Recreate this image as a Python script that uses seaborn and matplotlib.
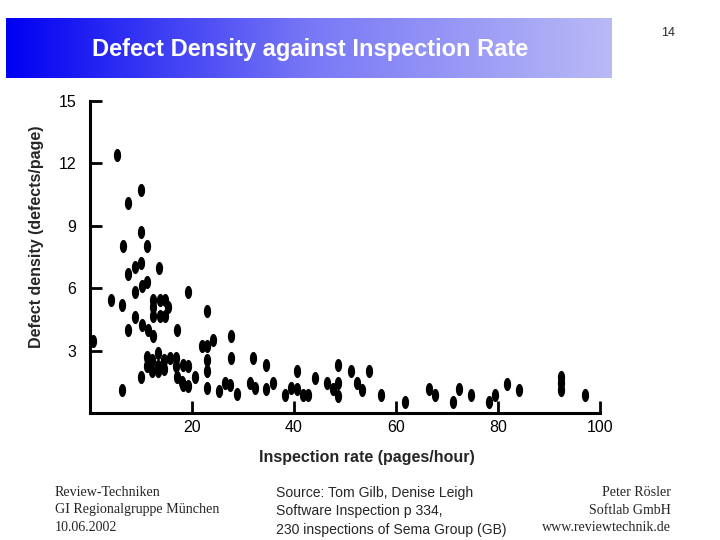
"""Defect density against inspection rate, slide-style scatter plot."""

import matplotlib

matplotlib.use("Agg")

import matplotlib.pyplot as plt
import numpy as np
import pandas as pd
import seaborn as sns
from matplotlib.colors import LinearSegmentedColormap
from matplotlib.path import Path

TITLE = "Defect Density against Inspection Rate"
PAGE_NUMBER = "14"
X_LABEL = "Inspection rate (pages/hour)"
Y_LABEL = "Defect density (defects/page)"
X_TICKS = [20, 40, 60, 80, 100]
Y_TICKS = [3, 6, 9, 12, 15]

# inspection rate (pages/hour)
inspection_rate = [
    5.2, 10.0, 7.5, 10.0, 6.5, 11.1, 10.0, 8.8, 7.5, 13.5,
    11.1, 10.1, 8.8, 19.3, 4.1, 6.3, 12.4, 13.7, 14.8, 12.4,
    15.2, 12.4, 13.7, 14.8, 22.9, 8.8, 10.1, 11.4, 7.5, 17.0,
    12.3, 27.6, 0.5, 24.2, 21.9, 22.9, 11.1, 11.1, 12.2, 13.4,
    13.4, 14.5, 14.5, 15.7, 16.9, 12.2, 13.3, 16.9, 18.3, 19.3,
    10.0, 17.0, 18.0, 19.3, 18.3, 20.6, 6.3, 22.9, 22.9, 22.9,
    27.6, 32.0, 25.2, 26.5, 27.4, 28.8, 31.4, 32.4, 34.6, 35.8,
    34.6, 38.2, 39.5, 40.5, 40.5, 41.7, 42.8, 44.1, 46.4, 47.6,
    48.7, 48.7, 48.7, 51.1, 52.3, 53.4, 54.7, 57.1, 61.8, 66.5,
    67.6, 71.2, 72.4, 74.7, 78.2, 79.4, 81.7, 84.1, 92.3, 92.3,
    92.3, 97.1,
]
# defect density (defects/page)
defect_density = [
    12.4, 10.7, 10.1, 8.7, 8.05, 8.05, 7.2, 7.0, 6.7, 6.95,
    6.3, 6.1, 5.8, 5.8, 5.45, 5.2, 5.45, 5.45, 5.45, 5.1,
    5.1, 4.65, 4.65, 4.65, 4.9, 4.6, 4.25, 4.0, 4.0, 4.0,
    3.7, 3.7, 3.45, 3.5, 3.2, 3.2, 2.7, 2.25, 2.55, 2.9,
    2.25, 2.55, 2.1, 2.65, 2.65, 2.0, 2.0, 2.25, 2.3, 2.25,
    1.75, 1.75, 1.5, 1.3, 1.35, 1.75, 1.1, 2.55, 2.0, 1.2,
    2.65, 2.65, 1.05, 1.45, 1.35, 0.9, 1.45, 1.2, 2.3, 1.45,
    1.15, 0.85, 1.2, 2.0, 1.15, 0.85, 0.85, 1.7, 1.45, 1.15,
    2.3, 1.45, 0.8, 2.0, 1.45, 1.1, 2.0, 0.85, 0.55, 1.15,
    0.85, 0.55, 1.15, 0.85, 0.55, 0.85, 1.4, 1.1, 1.75, 1.45,
    1.1, 0.85,
]

FOOTER_LEFT = "Review-Techniken\nGI Regionalgruppe München\n10.06.2002"
FOOTER_MID = "Source: Tom Gilb, Denise Leigh\nSoftware Inspection p 334,\n230 inspections of Sema Group (GB)"
FOOTER_RIGHT = "Peter Rösler\nSoftlab GmbH\nwww.reviewtechnik.de"


def ellipse_marker(ratio=0.55, n=40):
    theta = np.linspace(0, 2 * np.pi, n)
    verts = np.column_stack([ratio * np.cos(theta), np.sin(theta)])
    return Path(verts, closed=True)


def main():
    sns.set_theme(style="white")
    plt.rcParams["font.family"] = ["Liberation Sans", "DejaVu Sans"]

    fig = plt.figure(figsize=(7.2, 5.4), dpi=100)

    # gradient title bar
    bar = fig.add_axes([6 / 720, 1 - 78 / 540, 606 / 720, 60 / 540])
    cmap = LinearSegmentedColormap.from_list("bar", ["#0000f2", "#7878f6", "#b9b9f6"])
    bar.imshow(np.linspace(0, 1, 256)[None, :], aspect="auto", cmap=cmap,
               extent=(0, 1, 0, 1))
    bar.set_axis_off()
    bar.text(0.502, 0.47, TITLE, color="white", fontsize=17, fontweight="bold",
             ha="center", va="center", transform=bar.transAxes)
    fig.text(668 / 720, 1 - 33 / 540, PAGE_NUMBER, fontsize=9, ha="center", va="center")

    ax = fig.add_axes([90 / 720, 1 - 413 / 540, 510 / 720, 312 / 540])
    data = pd.DataFrame({"rate": inspection_rate, "density": defect_density})
    sns.scatterplot(data=data, x="rate", y="density", ax=ax, color="black",
                    marker=ellipse_marker(), s=90, linewidth=0, legend=False)

    ax.set_xlim(0, 100)
    ax.set_ylim(0, 15)
    ax.set_xticks(X_TICKS)
    ax.set_yticks(Y_TICKS)
    ax.tick_params(axis="both", direction="in", length=8.5, width=2, labelsize=11.5,
                   colors="black", bottom=True, left=True)
    ax.tick_params(axis="x", pad=5)
    ax.tick_params(axis="y", pad=10)
    for side in ("top", "right"):
        ax.spines[side].set_visible(False)
    for side in ("left", "bottom"):
        ax.spines[side].set_linewidth(2.2)
        ax.spines[side].set_color("black")

    ax.set_xlabel(X_LABEL, fontsize=11.5, fontweight="bold")
    ax.set_ylabel(Y_LABEL, fontsize=11.5, fontweight="bold")
    ax.xaxis.set_label_coords((367 - 90) / 510, -37 / 312)
    ax.yaxis.set_label_coords(-46 / 510, (413 - 237) / 312)

    serif = ["Liberation Serif", "DejaVu Serif"]
    fig.text(55 / 720, 1 - 486 / 540, FOOTER_LEFT, fontsize=10.1, family=serif,
             ha="left", va="top", linespacing=1.45)
    fig.text(276 / 720, 1 - 486 / 540, FOOTER_MID, fontsize=10.1,
             ha="left", va="top", linespacing=1.4)
    fig.text(671 / 720, 1 - 486 / 540, FOOTER_RIGHT, fontsize=10.1, family=serif,
             ha="right", va="top", linespacing=1.45)

    fig.savefig("out.png", dpi=100)
    plt.close(fig)


if __name__ == "__main__":
    main()
